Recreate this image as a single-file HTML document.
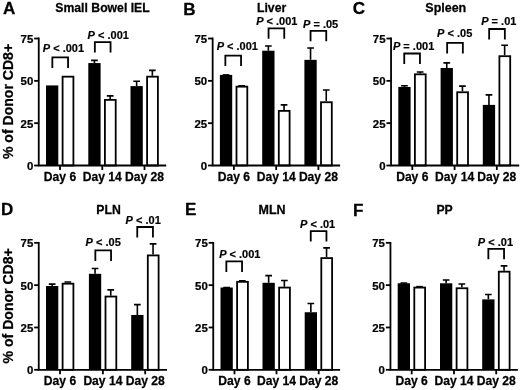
<!DOCTYPE html>
<html><head><meta charset="utf-8"><title>Figure</title>
<style>
html,body{margin:0;padding:0;background:#fff;}
body{width:520px;height:390px;overflow:hidden;}
svg{display:block;will-change:transform;font-family:"Liberation Sans", sans-serif;font-weight:bold;fill:#000;}
text{stroke:#000;stroke-width:0.25;}
text.p{stroke-width:0.18;}
.l{fill:none;stroke:#000;stroke-width:1.8;}
.e{fill:none;stroke:#000;stroke-width:1.6;}
.b{fill:#000;}
.w{fill:#fff;stroke:#000;stroke-width:1.8;}
</style></head><body>
<svg width="520" height="390" viewBox="0 0 520 390">
<rect width="520" height="390" fill="#fff"/>
<!-- panel A -->
<rect x="46" y="85.42" width="12.3" height="80.08" class="b"/>
<rect x="62.6" y="76.67" width="10.8" height="88.83" class="w"/>
<path d="M94.45 63.07V60.36M91.1 60.36H97.8" class="e"/>
<rect x="88.3" y="63.07" width="12.3" height="102.43" class="b"/>
<path d="M110.15 98.97V95.91M106.8 95.91H113.5" class="e"/>
<rect x="104.9" y="99.87" width="10.8" height="65.63" class="w"/>
<path d="M136.65 86.1V81.18M133.3 81.18H140" class="e"/>
<rect x="130.5" y="86.1" width="12.3" height="79.4" class="b"/>
<path d="M152.35 75.77V70.35M149 70.35H155.7" class="e"/>
<rect x="147.1" y="76.67" width="10.8" height="88.83" class="w"/>
<path d="M38.75 37.62V165.5H166.2" class="l"/>
<path d="M34.15 165.5H38.75" class="l"/>
<text transform="translate(33.25,170.1) scale(0.97,1)" font-size="11.8" text-anchor="end">0</text>
<path d="M34.15 123.17H38.75" class="l"/>
<text transform="translate(33.25,127.77) scale(0.97,1)" font-size="11.8" text-anchor="end">25</text>
<path d="M34.15 80.85H38.75" class="l"/>
<text transform="translate(33.25,85.45) scale(0.97,1)" font-size="11.8" text-anchor="end">50</text>
<path d="M34.15 38.52H38.75" class="l"/>
<text transform="translate(33.25,43.12) scale(0.97,1)" font-size="11.8" text-anchor="end">75</text>
<path d="M60 165.5V170" class="l"/>
<text transform="translate(60,181.1) scale(1.01,1)" font-size="12" text-anchor="middle">Day 6</text>
<path d="M102.3 165.5V170" class="l"/>
<text transform="translate(102.3,181.1) scale(1.01,1)" font-size="12" text-anchor="middle">Day 14</text>
<path d="M144.5 165.5V170" class="l"/>
<text transform="translate(144.5,181.1) scale(1.01,1)" font-size="12" text-anchor="middle">Day 28</text>
<text transform="translate(102.5,12.3) scale(1.02,1)" font-size="12" text-anchor="middle">Small Bowel IEL</text>
<text transform="translate(3,13.5) scale(1.01,1)" font-size="16.9" text-anchor="start">A</text>
<path d="M52.35 67.9V57.4H68.05V67.9" class="l"/>
<text class="p" transform="translate(63.4,51.6) scale(1.03,1)" font-size="10.7" text-anchor="middle"><tspan font-style="italic">P</tspan> &lt; .001</text>
<path d="M94.85 52.6V42.1H110.55V52.6" class="l"/>
<text class="p" transform="translate(108.2,38.8) scale(1.03,1)" font-size="10.7" text-anchor="middle"><tspan font-style="italic">P</tspan> &lt; .001</text>
<!-- panel B -->
<path d="M226.05 74.92V74.92M222.7 74.92H229.4" class="e"/>
<rect x="219.9" y="74.92" width="12.3" height="90.58" class="b"/>
<path d="M241.75 85.76V85.75M238.4 85.75H245.1" class="e"/>
<rect x="236.5" y="86.66" width="10.8" height="78.84" class="w"/>
<path d="M268.35 50.71V45.97M265 45.97H271.7" class="e"/>
<rect x="262.2" y="50.71" width="12.3" height="114.79" class="b"/>
<path d="M284.05 109.97V104.88M280.7 104.88H287.4" class="e"/>
<rect x="278.8" y="110.87" width="10.8" height="54.63" class="w"/>
<path d="M310.55 59.86V48M307.2 48H313.9" class="e"/>
<rect x="304.4" y="59.86" width="12.3" height="105.64" class="b"/>
<path d="M326.25 101.34V89.98M322.9 89.98H329.6" class="e"/>
<rect x="321" y="102.24" width="10.8" height="63.26" class="w"/>
<path d="M212.65 37.62V165.5H340.1" class="l"/>
<path d="M208.05 165.5H212.65" class="l"/>
<text transform="translate(207.15,170.1) scale(0.97,1)" font-size="11.8" text-anchor="end">0</text>
<path d="M208.05 123.17H212.65" class="l"/>
<text transform="translate(207.15,127.77) scale(0.97,1)" font-size="11.8" text-anchor="end">25</text>
<path d="M208.05 80.85H212.65" class="l"/>
<text transform="translate(207.15,85.45) scale(0.97,1)" font-size="11.8" text-anchor="end">50</text>
<path d="M208.05 38.52H212.65" class="l"/>
<text transform="translate(207.15,43.12) scale(0.97,1)" font-size="11.8" text-anchor="end">75</text>
<path d="M233.9 165.5V170" class="l"/>
<text transform="translate(233.9,181.1) scale(1.01,1)" font-size="12" text-anchor="middle">Day 6</text>
<path d="M276.2 165.5V170" class="l"/>
<text transform="translate(276.2,181.1) scale(1.01,1)" font-size="12" text-anchor="middle">Day 14</text>
<path d="M318.4 165.5V170" class="l"/>
<text transform="translate(318.4,181.1) scale(1.01,1)" font-size="12" text-anchor="middle">Day 28</text>
<text transform="translate(271.6,12.3) scale(1.02,1)" font-size="12" text-anchor="middle">Liver</text>
<text transform="translate(183.3,14.9) scale(1.01,1)" font-size="16.9" text-anchor="start">B</text>
<path d="M225.35 66.1V55.6H241.05V66.1" class="l"/>
<text class="p" transform="translate(237.3,50.4) scale(1.03,1)" font-size="10.7" text-anchor="middle"><tspan font-style="italic">P</tspan> &lt; .001</text>
<path d="M268.55 38.8V28.3H284.25V38.8" class="l"/>
<text class="p" transform="translate(276.8,24.7) scale(1.03,1)" font-size="10.7" text-anchor="middle"><tspan font-style="italic">P</tspan> &lt; .001</text>
<path d="M310.55 41.3V30.8H326.25V41.3" class="l"/>
<text class="p" transform="translate(320.6,27.6) scale(1.03,1)" font-size="10.7" text-anchor="middle"><tspan font-style="italic">P</tspan> = .05</text>
<!-- panel C -->
<path d="M404.45 86.94V85.75M401.1 85.75H407.8" class="e"/>
<rect x="398.3" y="86.94" width="12.3" height="78.56" class="b"/>
<path d="M420.15 73.4V72.04M416.8 72.04H423.5" class="e"/>
<rect x="414.9" y="74.3" width="10.8" height="91.2" class="w"/>
<path d="M446.75 67.98V62.9M443.4 62.9H450.1" class="e"/>
<rect x="440.6" y="67.98" width="12.3" height="97.52" class="b"/>
<path d="M462.45 91.35V86.09M459.1 86.09H465.8" class="e"/>
<rect x="457.2" y="92.25" width="10.8" height="73.25" class="w"/>
<path d="M488.95 104.89V94.89M485.6 94.89H492.3" class="e"/>
<rect x="482.8" y="104.89" width="12.3" height="60.61" class="b"/>
<path d="M504.65 55.29V45.29M501.3 45.29H508" class="e"/>
<rect x="499.4" y="56.19" width="10.8" height="109.31" class="w"/>
<path d="M391.05 37.62V165.5H519.2" class="l"/>
<path d="M386.45 165.5H391.05" class="l"/>
<text transform="translate(385.55,170.1) scale(0.97,1)" font-size="11.8" text-anchor="end">0</text>
<path d="M386.45 123.17H391.05" class="l"/>
<text transform="translate(385.55,127.77) scale(0.97,1)" font-size="11.8" text-anchor="end">25</text>
<path d="M386.45 80.85H391.05" class="l"/>
<text transform="translate(385.55,85.45) scale(0.97,1)" font-size="11.8" text-anchor="end">50</text>
<path d="M386.45 38.52H391.05" class="l"/>
<text transform="translate(385.55,43.12) scale(0.97,1)" font-size="11.8" text-anchor="end">75</text>
<path d="M412.3 165.5V170" class="l"/>
<text transform="translate(412.3,181.1) scale(1.01,1)" font-size="12" text-anchor="middle">Day 6</text>
<path d="M454.6 165.5V170" class="l"/>
<text transform="translate(454.6,181.1) scale(1.01,1)" font-size="12" text-anchor="middle">Day 14</text>
<path d="M496.8 165.5V170" class="l"/>
<text transform="translate(496.8,181.1) scale(1.01,1)" font-size="12" text-anchor="middle">Day 28</text>
<text transform="translate(445.8,12.3) scale(1.04,1)" font-size="12" text-anchor="middle">Spleen</text>
<text transform="translate(352.7,14.3) scale(1.01,1)" font-size="16.9" text-anchor="start">C</text>
<path d="M404.25 64V53.5H419.95V64" class="l"/>
<text class="p" transform="translate(413.6,50.3) scale(1.03,1)" font-size="10.7" text-anchor="middle"><tspan font-style="italic">P</tspan> = .001</text>
<path d="M447.15 53.4V42.9H462.85V53.4" class="l"/>
<text class="p" transform="translate(454.7,37.2) scale(1.03,1)" font-size="10.7" text-anchor="middle"><tspan font-style="italic">P</tspan> &lt; .05</text>
<path d="M489.15 39.5V29H504.85V39.5" class="l"/>
<text class="p" transform="translate(498.8,25.3) scale(1.03,1)" font-size="10.7" text-anchor="middle"><tspan font-style="italic">P</tspan> = .01</text>
<!-- panel D -->
<path d="M52.15 286V284.13M48.8 284.13H55.5" class="e"/>
<rect x="46" y="286" width="12.3" height="83.8" class="b"/>
<path d="M67.85 282.78V281.93M64.5 281.93H71.2" class="e"/>
<rect x="62.6" y="283.68" width="10.8" height="86.12" class="w"/>
<path d="M95.05 273.81V268.55M91.7 268.55H98.4" class="e"/>
<rect x="88.9" y="273.81" width="12.3" height="95.99" class="b"/>
<path d="M110.75 295.65V289.88M107.4 289.88H114.1" class="e"/>
<rect x="105.5" y="296.55" width="10.8" height="73.25" class="w"/>
<path d="M137.35 314.95V304.61M134 304.61H140.7" class="e"/>
<rect x="131.2" y="314.95" width="12.3" height="54.85" class="b"/>
<path d="M153.05 254.51V243.83M149.7 243.83H156.4" class="e"/>
<rect x="147.8" y="255.41" width="10.8" height="114.39" class="w"/>
<path d="M38.75 241.92V369.8H167" class="l"/>
<path d="M34.15 369.8H38.75" class="l"/>
<text transform="translate(33.25,374.4) scale(0.97,1)" font-size="11.8" text-anchor="end">0</text>
<path d="M34.15 327.48H38.75" class="l"/>
<text transform="translate(33.25,332.08) scale(0.97,1)" font-size="11.8" text-anchor="end">25</text>
<path d="M34.15 285.15H38.75" class="l"/>
<text transform="translate(33.25,289.75) scale(0.97,1)" font-size="11.8" text-anchor="end">50</text>
<path d="M34.15 242.82H38.75" class="l"/>
<text transform="translate(33.25,247.42) scale(0.97,1)" font-size="11.8" text-anchor="end">75</text>
<path d="M60 369.8V374.3" class="l"/>
<text transform="translate(60,385.4) scale(1.01,1)" font-size="12" text-anchor="middle">Day 6</text>
<path d="M102.9 369.8V374.3" class="l"/>
<text transform="translate(102.9,385.4) scale(1.01,1)" font-size="12" text-anchor="middle">Day 14</text>
<path d="M145.2 369.8V374.3" class="l"/>
<text transform="translate(145.2,385.4) scale(1.01,1)" font-size="12" text-anchor="middle">Day 28</text>
<text transform="translate(108.6,213.5) scale(1.02,1)" font-size="12" text-anchor="middle">PLN</text>
<text transform="translate(0.9,214.7) scale(1.01,1)" font-size="16.9" text-anchor="start">D</text>
<path d="M95.35 260.9V250.4H111.05V260.9" class="l"/>
<text class="p" transform="translate(103.2,246.4) scale(1.03,1)" font-size="10.7" text-anchor="middle"><tspan font-style="italic">P</tspan> &lt; .05</text>
<path d="M137.25 237.5V227H152.95V237.5" class="l"/>
<text class="p" transform="translate(143.2,224) scale(1.03,1)" font-size="10.7" text-anchor="middle"><tspan font-style="italic">P</tspan> &lt; .01</text>
<!-- panel E -->
<path d="M226.65 287.52V287.51M223.3 287.51H230" class="e"/>
<rect x="220.5" y="287.52" width="12.3" height="82.28" class="b"/>
<path d="M242.35 280.92V280.91M239 280.91H245.7" class="e"/>
<rect x="237.1" y="281.82" width="10.8" height="87.98" class="w"/>
<path d="M268.65 282.78V275.66M265.3 275.66H272" class="e"/>
<rect x="262.5" y="282.78" width="12.3" height="87.02" class="b"/>
<path d="M284.35 286.67V280.57M281 280.57H287.7" class="e"/>
<rect x="279.1" y="287.57" width="10.8" height="82.23" class="w"/>
<path d="M310.85 312.24V303.43M307.5 303.43H314.2" class="e"/>
<rect x="304.7" y="312.24" width="12.3" height="57.56" class="b"/>
<path d="M326.55 257.22V247.9M323.2 247.9H329.9" class="e"/>
<rect x="321.3" y="258.12" width="10.8" height="111.68" class="w"/>
<path d="M213.25 241.92V369.8H340.1" class="l"/>
<path d="M208.65 369.8H213.25" class="l"/>
<text transform="translate(207.75,374.4) scale(0.97,1)" font-size="11.8" text-anchor="end">0</text>
<path d="M208.65 327.48H213.25" class="l"/>
<text transform="translate(207.75,332.08) scale(0.97,1)" font-size="11.8" text-anchor="end">25</text>
<path d="M208.65 285.15H213.25" class="l"/>
<text transform="translate(207.75,289.75) scale(0.97,1)" font-size="11.8" text-anchor="end">50</text>
<path d="M208.65 242.82H213.25" class="l"/>
<text transform="translate(207.75,247.42) scale(0.97,1)" font-size="11.8" text-anchor="end">75</text>
<path d="M234.5 369.8V374.3" class="l"/>
<text transform="translate(234.5,385.4) scale(1.01,1)" font-size="12" text-anchor="middle">Day 6</text>
<path d="M276.5 369.8V374.3" class="l"/>
<text transform="translate(276.5,385.4) scale(1.01,1)" font-size="12" text-anchor="middle">Day 14</text>
<path d="M318.7 369.8V374.3" class="l"/>
<text transform="translate(318.7,385.4) scale(1.01,1)" font-size="12" text-anchor="middle">Day 28</text>
<text transform="translate(272,213.5) scale(1.04,1)" font-size="12" text-anchor="middle">MLN</text>
<text transform="translate(184.9,215.1) scale(1.01,1)" font-size="16.9" text-anchor="start">E</text>
<path d="M226.35 271.9V261.4H242.05V271.9" class="l"/>
<text class="p" transform="translate(239.8,258.2) scale(1.03,1)" font-size="10.7" text-anchor="middle"><tspan font-style="italic">P</tspan> &lt; .001</text>
<path d="M310.75 241.6V231.1H326.45V241.6" class="l"/>
<text class="p" transform="translate(317.6,228) scale(1.03,1)" font-size="10.7" text-anchor="middle"><tspan font-style="italic">P</tspan> &lt; .01</text>
<!-- panel F -->
<path d="M403.85 283.29V282.94M400.5 282.94H407.2" class="e"/>
<rect x="397.7" y="283.29" width="12.3" height="86.51" class="b"/>
<path d="M419.55 286.67V286.67M416.2 286.67H422.9" class="e"/>
<rect x="414.3" y="287.57" width="10.8" height="82.23" class="w"/>
<path d="M446.15 283.29V280.06M442.8 280.06H449.5" class="e"/>
<rect x="440" y="283.29" width="12.3" height="86.51" class="b"/>
<path d="M461.85 287.35V283.96M458.5 283.96H465.2" class="e"/>
<rect x="456.6" y="288.25" width="10.8" height="81.55" class="w"/>
<path d="M488.35 299.37V294.45M485 294.45H491.7" class="e"/>
<rect x="482.2" y="299.37" width="12.3" height="70.43" class="b"/>
<path d="M504.05 270.76V265.84M500.7 265.84H507.4" class="e"/>
<rect x="498.8" y="271.66" width="10.8" height="98.14" class="w"/>
<path d="M390.45 241.92V369.8H517.9" class="l"/>
<path d="M385.85 369.8H390.45" class="l"/>
<text transform="translate(384.95,374.4) scale(0.97,1)" font-size="11.8" text-anchor="end">0</text>
<path d="M385.85 327.48H390.45" class="l"/>
<text transform="translate(384.95,332.08) scale(0.97,1)" font-size="11.8" text-anchor="end">25</text>
<path d="M385.85 285.15H390.45" class="l"/>
<text transform="translate(384.95,289.75) scale(0.97,1)" font-size="11.8" text-anchor="end">50</text>
<path d="M385.85 242.82H390.45" class="l"/>
<text transform="translate(384.95,247.42) scale(0.97,1)" font-size="11.8" text-anchor="end">75</text>
<path d="M411.7 369.8V374.3" class="l"/>
<text transform="translate(411.7,385.4) scale(1.01,1)" font-size="12" text-anchor="middle">Day 6</text>
<path d="M454 369.8V374.3" class="l"/>
<text transform="translate(454,385.4) scale(1.01,1)" font-size="12" text-anchor="middle">Day 14</text>
<path d="M496.2 369.8V374.3" class="l"/>
<text transform="translate(496.2,385.4) scale(1.01,1)" font-size="12" text-anchor="middle">Day 28</text>
<text transform="translate(444.6,213.5) scale(1.02,1)" font-size="12" text-anchor="middle">PP</text>
<text transform="translate(353.1,216) scale(1.01,1)" font-size="16.9" text-anchor="start">F</text>
<path d="M488.35 259.3V248.8H504.05V259.3" class="l"/>
<text class="p" transform="translate(495.4,245.5) scale(1.03,1)" font-size="10.7" text-anchor="middle"><tspan font-style="italic">P</tspan> &lt; .01</text>
<text transform="translate(12.8,101.5) rotate(-90) scale(1.02,1)" font-size="13.8" text-anchor="middle">% of Donor CD8+</text>
<text transform="translate(12.8,305.8) rotate(-90) scale(1.02,1)" font-size="13.8" text-anchor="middle">% of Donor CD8+</text>
</svg>
</body></html>
